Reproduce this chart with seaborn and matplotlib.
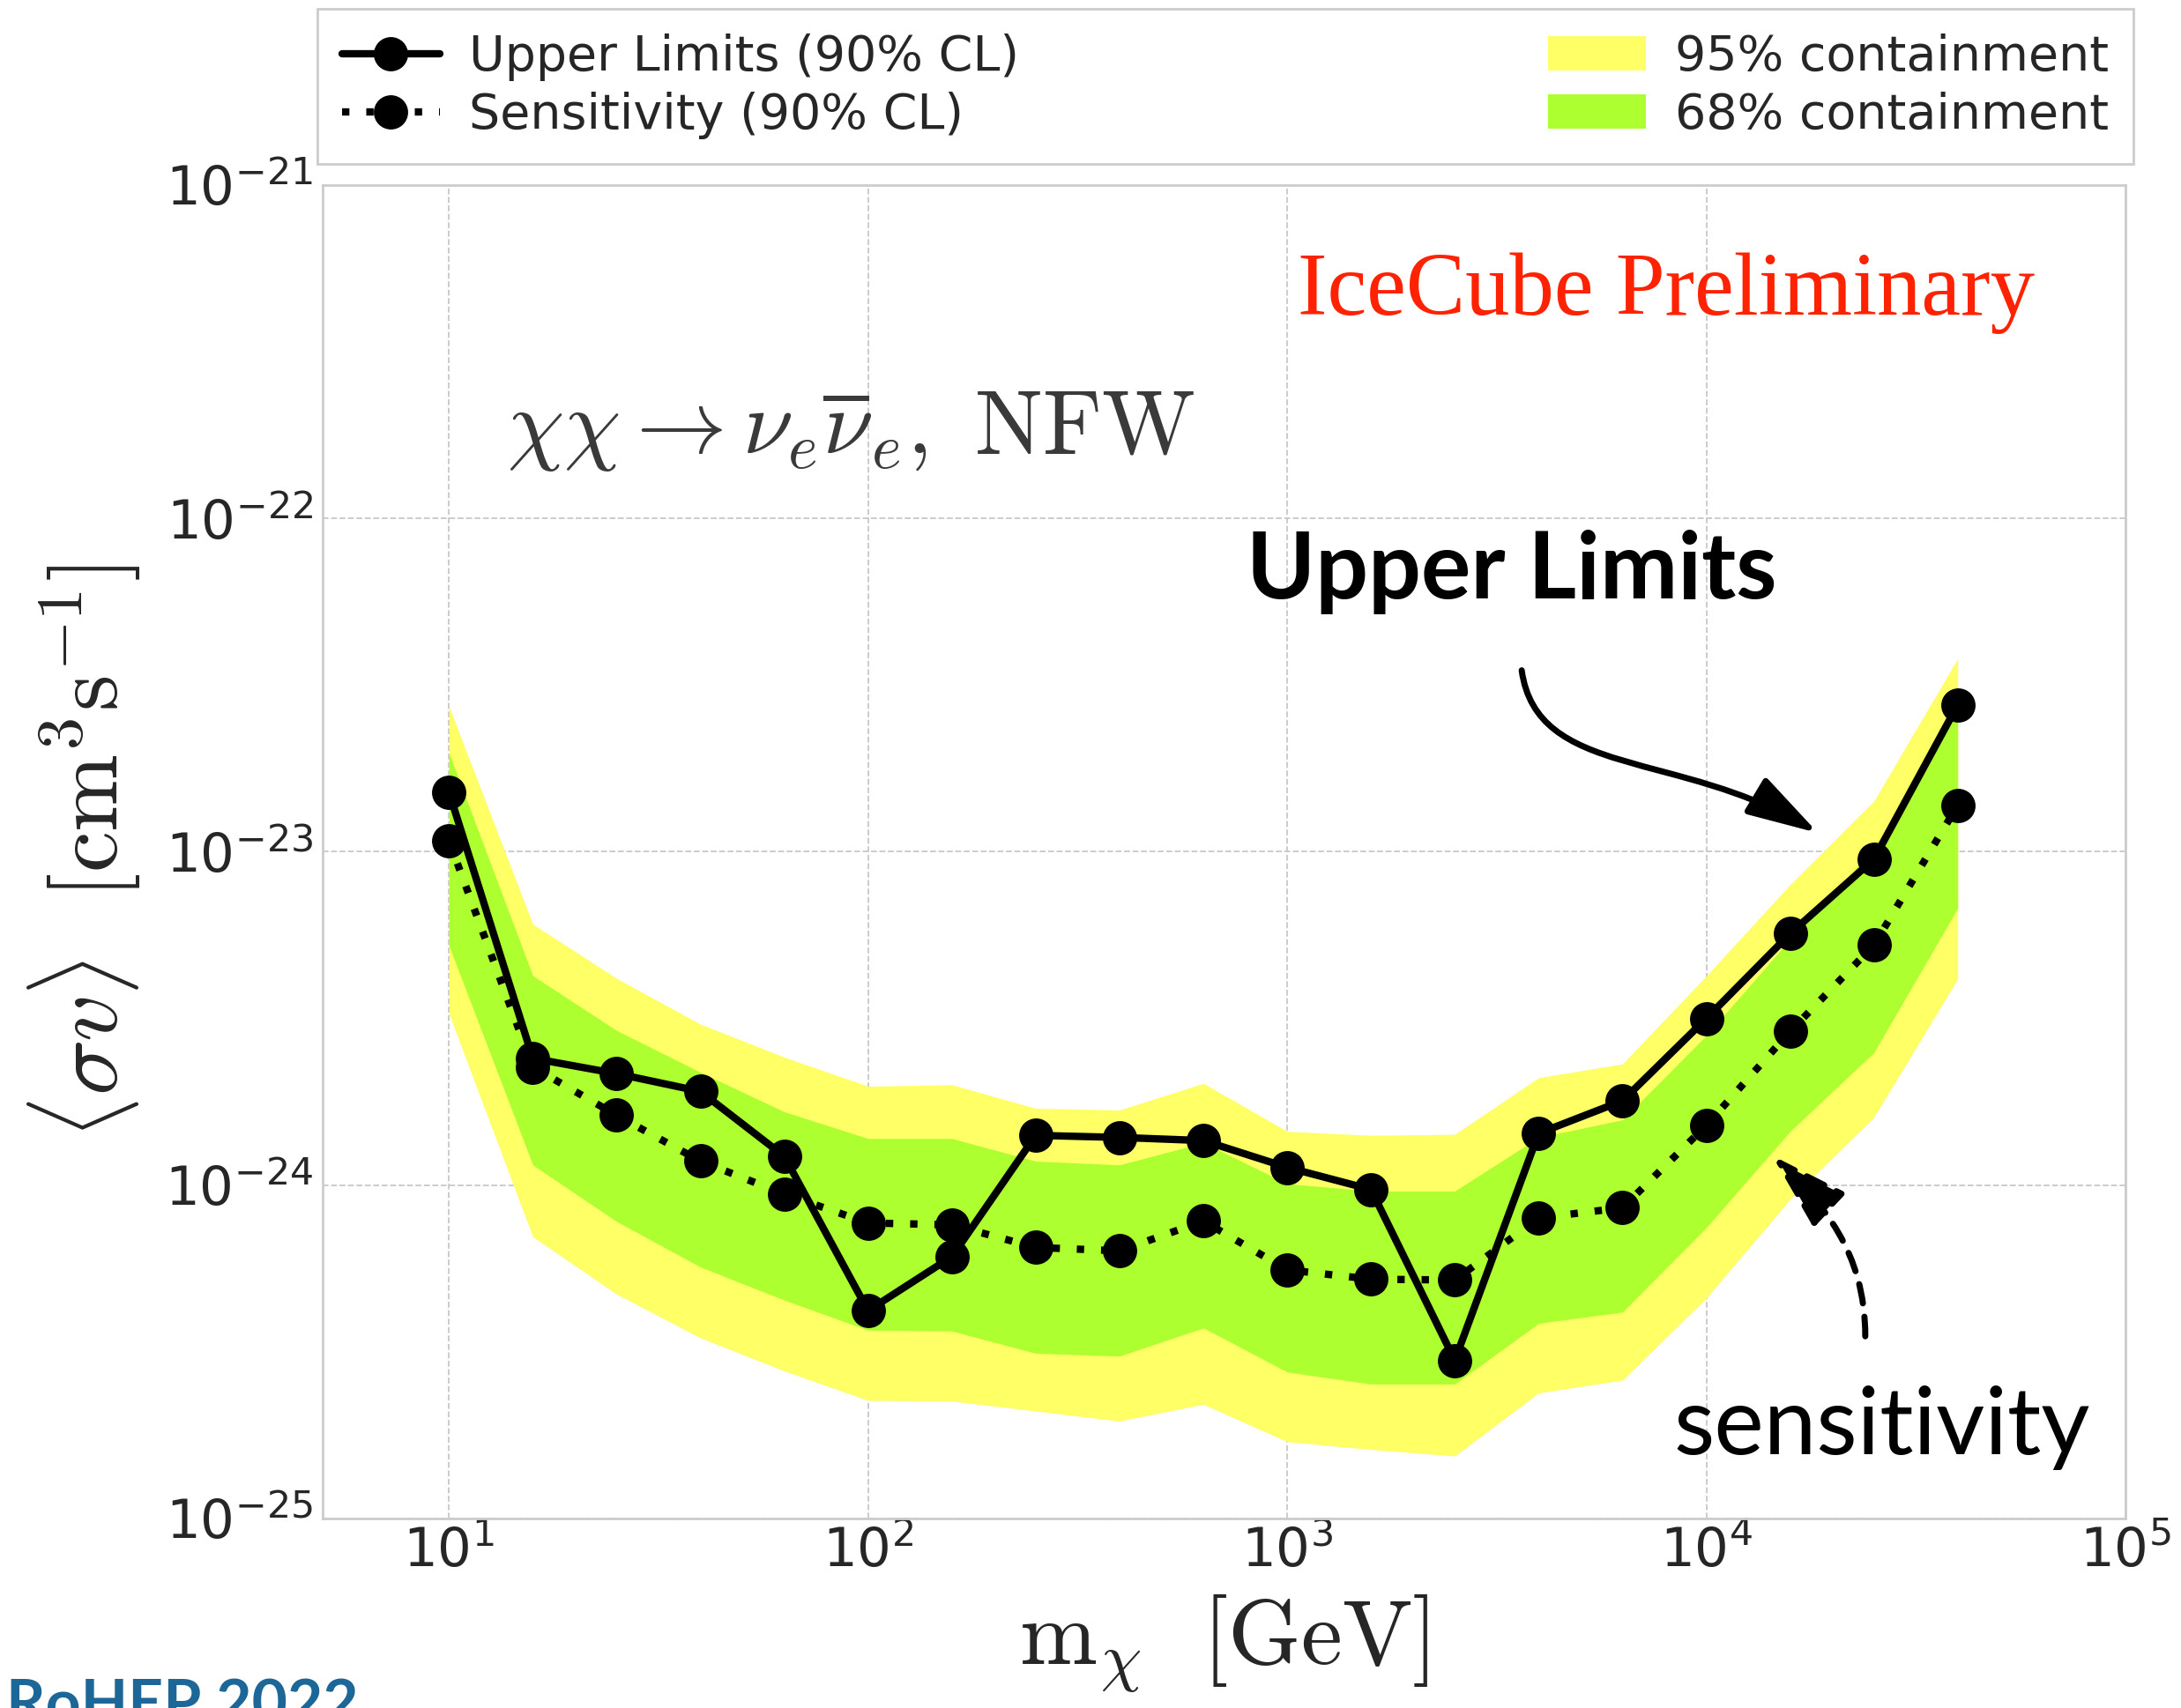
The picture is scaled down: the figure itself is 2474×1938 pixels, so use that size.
import matplotlib
matplotlib.use("Agg")
import numpy as np
import pandas as pd
import matplotlib.pyplot as plt
import seaborn as sns
from matplotlib.path import Path
from matplotlib.patches import FancyArrowPatch, Patch
from matplotlib.lines import Line2D
from matplotlib.ticker import NullLocator

# ---------------- data ----------------
mass_gev = [10, 15.85, 25.12, 39.81, 63.10, 100, 158.5, 251.2, 398.1, 631.0,
            1000, 1585, 2512, 3981, 6310, 10000, 15850, 25120, 39810]
upper_limits = [1.51e-23, 2.40e-24, 2.16e-24, 1.91e-24, 1.22e-24, 4.20e-25, 6.10e-25,
                1.41e-24, 1.39e-24, 1.36e-24, 1.13e-24, 9.70e-25, 2.98e-25, 1.43e-24,
                1.79e-24, 3.16e-24, 5.68e-24, 9.50e-24, 2.76e-23]
sensitivity = [1.08e-23, 2.26e-24, 1.62e-24, 1.18e-24, 9.40e-25, 7.70e-25, 7.60e-25,
               6.50e-25, 6.35e-25, 7.80e-25, 5.57e-25, 5.22e-25, 5.19e-25, 7.97e-25,
               8.55e-25, 1.51e-24, 2.89e-24, 5.25e-24, 1.38e-23]
band95_high = [2.73e-23, 6.07e-24, 4.17e-24, 3.04e-24, 2.42e-24, 1.98e-24, 2.00e-24,
               1.70e-24, 1.68e-24, 2.02e-24, 1.45e-24, 1.41e-24, 1.42e-24, 2.10e-24,
               2.31e-24, 4.24e-24, 7.97e-24, 1.42e-23, 3.80e-23]
band68_high = [1.98e-23, 4.25e-24, 2.91e-24, 2.18e-24, 1.66e-24, 1.38e-24, 1.38e-24,
               1.18e-24, 1.15e-24, 1.34e-24, 1.01e-24, 9.60e-25, 9.60e-25, 1.39e-24,
               1.57e-24, 2.81e-24, 5.46e-24, 1.02e-23, 2.70e-23]
band68_low = [5.23e-24, 1.15e-24, 7.78e-25, 5.68e-25, 4.52e-25, 3.67e-25, 3.65e-25,
              3.13e-25, 3.07e-25, 3.73e-25, 2.75e-25, 2.53e-25, 2.53e-25, 3.85e-25,
              4.16e-25, 7.46e-25, 1.45e-24, 2.50e-24, 6.78e-24]
band95_low = [3.27e-24, 7.00e-25, 4.71e-25, 3.48e-25, 2.77e-25, 2.26e-25, 2.25e-25,
              2.10e-25, 1.96e-25, 2.20e-25, 1.70e-25, 1.61e-25, 1.54e-25, 2.38e-25,
              2.60e-25, 4.58e-25, 9.07e-25, 1.60e-24, 4.16e-24]

legend_labels = ["Upper Limits (90% CL)", "Sensitivity (90% CL)",
                 "95% containment", "68% containment"]
x_ticks = [1e1, 1e2, 1e3, 1e4, 1e5]
y_ticks = [1e-25, 1e-24, 1e-23, 1e-22, 1e-21]
x_limits = (5, 1e5)
y_limits = (1e-25, 1e-21)

df = pd.DataFrame({"mass": mass_gev, "upper": upper_limits, "sens": sensitivity})

# ---------------- style ----------------
sns.set_theme(style="whitegrid")
plt.rcParams.update({
    "font.family": ["DejaVu Sans"],
    "mathtext.fontset": "cm",
    "axes.edgecolor": "#cccccc",
    "axes.linewidth": 2.0,
    "grid.color": "#c8c8c8",
    "grid.linestyle": "--",
    "grid.linewidth": 1.3,
    "xtick.color": "#262626",
    "ytick.color": "#262626",
})

YELLOW = "#ffff66"
GREEN = "#adff2f"
LW = 6
MS = 28
DOT = (0, (1, 2.3))

fig = plt.figure(figsize=(24.74, 19.38), dpi=100)
ax = fig.add_axes([0.148, 0.111, 0.8265, 0.7806])
ax.set_xscale("log")
ax.set_yscale("log")

ax.fill_between(mass_gev, band95_low, band95_high, color=YELLOW, lw=0, zorder=1)
ax.fill_between(mass_gev, band68_low, band68_high, color=GREEN, lw=0, zorder=2)

sns.lineplot(data=df, x="mass", y="upper", ax=ax, color="black", linewidth=LW,
             marker="o", markersize=MS, markeredgewidth=0, zorder=4,
             linestyle="-")
sns.lineplot(data=df, x="mass", y="sens", ax=ax, color="black", linewidth=LW,
             marker="o", markersize=MS, markeredgewidth=0, zorder=3,
             linestyle=DOT)

ax.set_xlim(*x_limits)
ax.set_ylim(*y_limits)
ax.set_xticks(x_ticks)
ax.set_yticks(y_ticks)
ax.xaxis.set_minor_locator(NullLocator())
ax.yaxis.set_minor_locator(NullLocator())
ax.tick_params(axis="both", which="both", length=0, labelsize=44)
ax.tick_params(axis="x", pad=6)
ax.tick_params(axis="y", pad=8)
ax.grid(True, which="major")

ax.set_xlabel(r"$\mathrm{m}_{\chi}\ \ [\mathrm{GeV}]$", fontsize=76,
              color="#262626", labelpad=12)
ax.set_ylabel(r"$\langle\sigma v\rangle\ \ [\mathrm{cm}^3\mathrm{s}^{-1}]$",
              fontsize=76, color="#262626", labelpad=18)

# ---------------- texts ----------------
ax.text(0.1019, 0.7987, r"$\chi\chi \rightarrow \nu_e\overline{\nu}_e,\ \mathrm{NFW}$",
        transform=ax.transAxes, fontsize=74, color="#3a3a3a",
        ha="left", va="baseline")
ax.text(0.541, 0.903, "IceCube Preliminary", transform=ax.transAxes,
        fontsize=72.5, color="#ff2200", family=["Liberation Serif"],
        ha="left", va="baseline")
ax.text(0.5123, 0.6903, "Upper Limits", transform=ax.transAxes,
        fontsize=76, fontweight="bold", family=["Lato", "DejaVu Sans"],
        color="black", ha="left", va="baseline")
ax.text(0.7492, 0.048, "sensitivity", transform=ax.transAxes,
        fontsize=77, family=["Lato", "DejaVu Sans"], color="black",
        ha="left", va="baseline")
fig.text(0.003, -0.009, "RoHEP 2022", fontsize=50, fontweight="bold",
         family=["Lato", "DejaVu Sans"], color="#1c6797",
         ha="left", va="baseline")

# ---------------- arrows ----------------
solid_path = Path([(0.6651, 0.6361), (0.6736, 0.5547), (0.7523, 0.5766), (0.8295, 0.5141)],
                  [Path.MOVETO, Path.CURVE4, Path.CURVE4, Path.CURVE4])
arr1 = FancyArrowPatch(path=solid_path, transform=ax.transAxes,
                       arrowstyle="-|>,head_length=1.1,head_width=0.32",
                       mutation_scale=45, color="black", linewidth=5, zorder=6)
ax.add_patch(arr1)

dash_path = Path([(0.8557, 0.1366), (0.8557, 0.2002), (0.8318, 0.2367), (0.8040, 0.2722)],
                 [Path.MOVETO, Path.CURVE4, Path.CURVE4, Path.CURVE4])
arr2 = FancyArrowPatch(path=dash_path, transform=ax.transAxes,
                       arrowstyle="-|>,head_length=1.2,head_width=0.36",
                       mutation_scale=45, color="black", linewidth=5,
                       linestyle=(0, (3.2, 2.2)), zorder=6)
ax.add_patch(arr2)

# ---------------- legend ----------------
handles = [
    Line2D([], [], color="black", lw=LW, marker="o", markersize=MS, markeredgewidth=0),
    Line2D([], [], color="black", lw=LW, marker="o", markersize=MS, markeredgewidth=0,
           linestyle=DOT),
    Patch(facecolor=YELLOW, edgecolor="none"),
    Patch(facecolor=GREEN, edgecolor="none"),
]
leg = fig.legend(handles, legend_labels, loc="lower left",
                 bbox_to_anchor=(0.1455, 0.904, 0.8327, 0.0893),
                 mode="expand", ncol=2, fontsize=40, frameon=True,
                 fancybox=False, edgecolor="#cccccc", framealpha=1,
                 handlelength=2.0, borderaxespad=0, labelcolor="#262626",
                 labelspacing=0.22, borderpad=0.5, handletextpad=0.6)
leg.get_frame().set_linewidth(2.0)

fig.savefig("out.png", dpi=100)
